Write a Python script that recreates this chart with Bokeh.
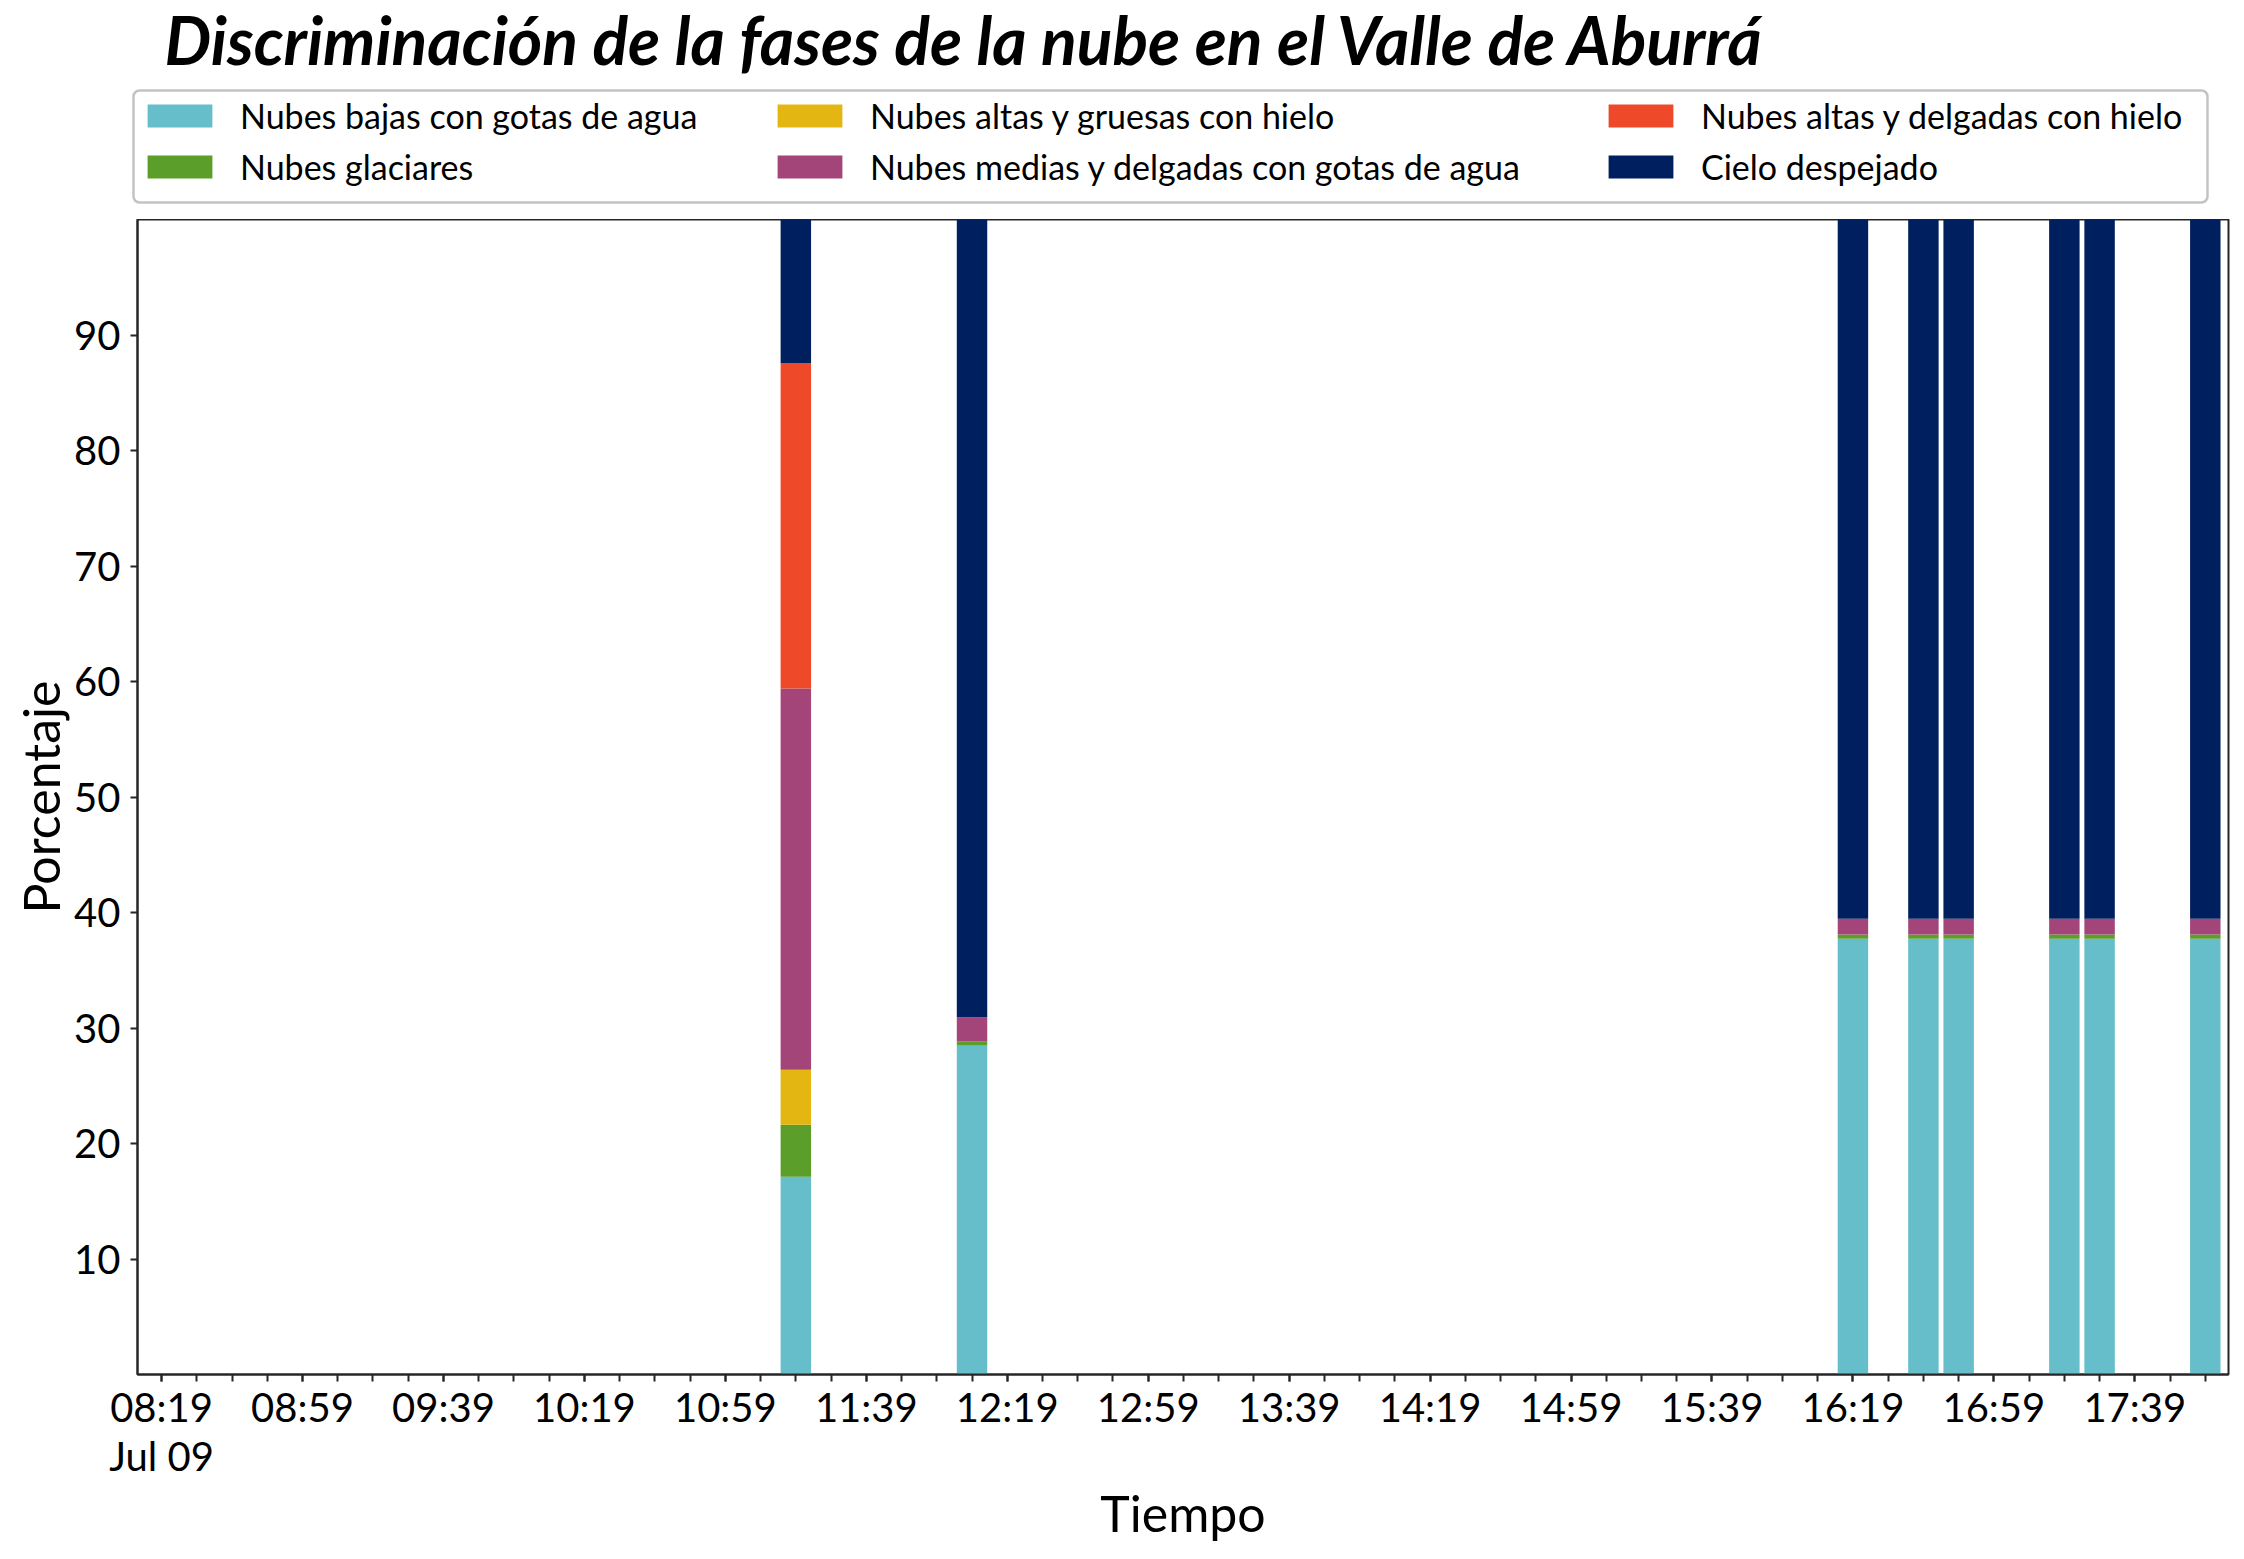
import datetime as dt
from bokeh.plotting import figure
from bokeh.layouts import column
from bokeh.models import (ColumnDataSource, FixedTicker, DatetimeTickFormatter, Legend,
                          LegendItem, Label, BoxAnnotation, Range1d)
from bokeh.embed import file_html
from bokeh.resources import INLINE

# ---------------- data ----------------
DAY = (2022, 7, 9)
times = ["11:19", "12:09", "16:19", "16:39", "16:49", "17:19", "17:29", "17:59"]
bajas_agua      = [17.13, 28.47, 37.73, 37.73, 37.73, 37.73, 37.73, 37.73]
glaciares       = [4.50, 0.35, 0.36, 0.36, 0.36, 0.36, 0.36, 0.36]
altas_gruesas   = [4.76, 0.0, 0.0, 0.0, 0.0, 0.0, 0.0, 0.0]
medias_delgadas = [33.01, 2.08, 1.37, 1.37, 1.37, 1.37, 1.37, 1.37]
altas_delgadas  = [28.17, 0.0, 0.0, 0.0, 0.0, 0.0, 0.0, 0.0]
despejado       = [12.43, 69.10, 60.54, 60.54, 60.54, 60.54, 60.54, 60.54]

series_names = ["Nubes bajas con gotas de agua", "Nubes glaciares",
                "Nubes altas y gruesas con hielo", "Nubes medias y delgadas con gotas de agua",
                "Nubes altas y delgadas con hielo", "Cielo despejado"]
series_colors = ["#65BEC9", "#5B9E29", "#E3B612", "#A34578", "#EE4A2A", "#001F5E"]

tick_labels = ["08:19", "08:59", "09:39", "10:19", "10:59", "11:39", "12:19", "12:59",
               "13:39", "14:19", "14:59", "15:39", "16:19", "16:59", "17:39"]
y_ticks = [10, 20, 30, 40, 50, 60, 70, 80, 90]
x_start, x_end = "08:12:10", "18:05:35"
bar_width_min = 8.64
title_text = "Discriminación de la fases de la nube en el Valle de Aburrá"

# ---------------- helpers ----------------
EPOCH = dt.datetime(1970, 1, 1)

def to_dt(hhmm):
    parts = [int(v) for v in hhmm.split(":")]
    while len(parts) < 3:
        parts.append(0)
    return dt.datetime(*DAY, *parts)

def to_ms(hhmm):
    return (to_dt(hhmm) - EPOCH).total_seconds() * 1000.0

keys = ["bajas", "glac", "gruesas", "medias", "delgadas", "despejado"]
source = ColumnDataSource(dict(
    t=[to_dt(t) for t in times],
    bajas=bajas_agua, glac=glaciares, gruesas=altas_gruesas,
    medias=medias_delgadas, delgadas=altas_delgadas, despejado=despejado,
))

FONT = "Lato"
AX = "#262626"
W = 2236
TOP_H = 219
BAR_W = bar_width_min * 60 * 1000

# ---------------- header (title + legend) ----------------
# header canvas uses pixel-like units so annotations can be placed freely
head = figure(width=W, height=TOP_H, x_range=Range1d(0, W), y_range=Range1d(TOP_H, 0),
              min_border=0, toolbar_location=None, output_backend="svg")
head.frame_align = False
head.axis.visible = False
head.grid.visible = False
head.outline_line_alpha = 0

head.add_layout(Label(x=164, y=39, text=title_text, text_font=FONT,
                      text_font_style="bold italic", text_font_size="66px",
                      text_color="black", text_baseline="alphabetic", text_align="left"))

head.add_layout(BoxAnnotation(left=133, right=2207, top=90, bottom=202,
                              fill_alpha=0, line_color="#343c34", line_width=2.5,
                              border_radius=6))

# legend swatches: the same stacked series, lying outside this header's visible range
swatches = head.vbar_stack(keys, x="t", width=BAR_W, source=source,
                           fill_color=series_colors, line_color=None)

col_x = [139, 769, 1600]
for c in range(3):
    items = [LegendItem(label=series_names[i], renderers=[swatches[i]]) for i in (2 * c, 2 * c + 1)]
    lg = Legend(items=items, location=(col_x[c], 32), orientation="vertical",
                glyph_width=81, glyph_height=29, label_height=29, label_standoff=20,
                spacing=10, padding=0, margin=0,
                label_text_font=FONT, label_text_font_size="34px", label_text_color="black",
                border_line_alpha=0, background_fill_alpha=0)
    head.add_layout(lg, "center")

# ---------------- main plot ----------------
p = figure(x_axis_type="datetime", frame_width=2091, frame_height=1155,
           min_border_left=137, min_border_right=8, min_border_top=0, min_border_bottom=177,
           x_range=Range1d(to_ms(x_start), to_ms(x_end)), y_range=Range1d(0, 100),
           toolbar_location=None, output_backend="svg")
p.frame_align = False
p.xgrid.visible = False
p.ygrid.visible = False
p.outline_line_color = AX
p.outline_line_width = 2
p.outline_line_alpha = 1.0

renderers = p.vbar_stack(keys, x="t", width=BAR_W, source=source,
                         fill_color=series_colors, line_color=None)

major = [to_ms(t) for t in tick_labels]
minor = [major[0] + k * 600000 for k in range(0, 59)]
p.xaxis.ticker = FixedTicker(ticks=major, minor_ticks=minor)
fmt = "%H:%M"
p.xaxis.formatter = DatetimeTickFormatter(
    minsec=fmt, minutes=fmt, hourmin=fmt, hours=fmt,
    context=DatetimeTickFormatter(minsec="%b %d", minutes="%b %d", hourmin="%b %d", hours="%b %d"),
    context_which="start")
p.yaxis.ticker = FixedTicker(ticks=y_ticks, minor_ticks=[])

for ax in (p.xaxis, p.yaxis):
    ax.axis_line_color = AX
    ax.axis_line_width = 2
    ax.major_tick_line_color = AX
    ax.major_tick_line_width = 2
    ax.major_tick_out = 7
    ax.major_tick_in = 0
    ax.minor_tick_line_color = AX
    ax.minor_tick_line_width = 2
    ax.minor_tick_out = 7
    ax.minor_tick_in = 0
    ax.major_label_text_font = FONT
    ax.major_label_text_font_size = "40px"
    ax.major_label_text_color = "black"
    ax.axis_label_text_font = FONT
    ax.axis_label_text_font_size = "50px"
    ax.axis_label_text_font_style = "normal"
    ax.axis_label_text_color = "black"

p.xaxis.major_label_standoff = 1
p.xaxis.major_label_text_line_height = 1.04
p.yaxis.major_label_standoff = 10
p.xaxis.axis_label = "Tiempo"
p.yaxis.axis_label = "Porcentaje"
p.xaxis.axis_label_standoff = 0
p.yaxis.axis_label_standoff = 0

layout = column(head, p, spacing=0)
open("out.html", "w").write(file_html(layout, INLINE))
